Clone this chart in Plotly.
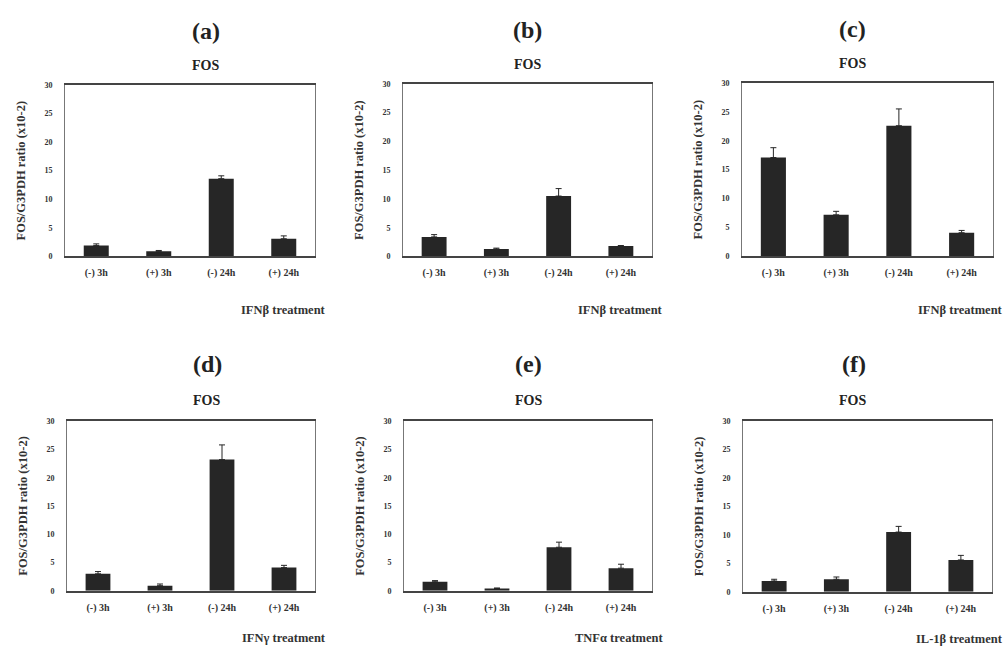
import plotly.graph_objects as go

categories = ["(-) 3h", "(+) 3h", "(-) 24h", "(+) 24h"]
panel_letters = ["(a)", "(b)", "(c)", "(d)", "(e)", "(f)"]
gene = "FOS"
treatments = ["IFNβ treatment", "IFNβ treatment", "IFNβ treatment",
              "IFNγ treatment", "TNFα treatment", "IL-1β treatment"]
y_title = "FOS/G3PDH ratio (x10-2)"
y_ticks = [0, 5, 10, 15, 20, 25, 30]

values_a = [1.9, 0.9, 13.6, 3.1]
errors_a = [0.3, 0.15, 0.5, 0.5]
values_b = [3.4, 1.3, 10.5, 1.8]
errors_b = [0.4, 0.15, 1.3, 0.1]
values_c = [17.1, 7.2, 22.6, 4.1]
errors_c = [1.7, 0.6, 2.9, 0.4]
values_d = [3.0, 0.9, 23.2, 4.1]
errors_d = [0.4, 0.3, 2.6, 0.4]
values_e = [1.6, 0.4, 7.7, 4.0]
errors_e = [0.2, 0.1, 0.9, 0.7]
values_f = [1.9, 2.2, 10.5, 5.6]
errors_f = [0.3, 0.4, 1.0, 0.8]

all_values = [values_a, values_b, values_c, values_d, values_e, values_f]
all_errors = [errors_a, errors_b, errors_c, errors_d, errors_e, errors_f]

W, H = 1006, 653
# plot-area pixel boxes (left, right, top, bottom)
boxes = [
    (65, 315, 82, 256),
    (403, 652, 81, 256),
    (742, 993, 80, 256),
    (67, 315, 423, 595),
    (404, 652, 423, 595),
    (743, 992, 423, 596),
]
title_offsets = [(55, 20), (55, 20), (55, 20), (58, 21), (58, 21), (58, 21)]
treat_offsets = [54, 54, 54, 48, 48, 48]

FONT = "Liberation Serif"
DARK = "#262626"

fig = go.Figure()
annotations = []
layout = dict(
    width=W, height=H, margin=dict(l=0, r=0, t=0, b=0),
    paper_bgcolor="white", plot_bgcolor="white", showlegend=False,
    bargap=0.6, font=dict(family=FONT, color="#222"),
)

for i in range(6):
    l, r, t, b = boxes[i]
    n = "" if i == 0 else str(i + 1)
    xa, ya = "x" + n, "y" + n
    fig.add_trace(go.Bar(
        x=categories, y=all_values[i], xaxis=xa, yaxis=ya,
        marker=dict(color=DARK, line=dict(width=0)),
        error_y=dict(type="data", symmetric=False, array=all_errors[i],
                     arrayminus=[0] * 4, color=DARK, thickness=1, width=3),
    ))
    dx = [l / W, r / W]
    dy = [1 - b / H, 1 - t / H]
    layout["xaxis" + n] = dict(
        domain=dx, anchor=ya, type="category", showline=True, linecolor="#444",
        linewidth=1.5, mirror=True, ticks="", showgrid=False,
        tickvals=categories, ticktext=["<b>" + c + "</b>" for c in categories],
        ticklabelstandoff=6,
        tickfont=dict(family=FONT, size=10, color="#333"),
    )
    layout["yaxis" + n] = dict(
        domain=dy, anchor=xa, range=[0, 30], tickvals=y_ticks,
        ticktext=["<b>%d</b>" % v for v in y_ticks],
        showline=True, linecolor="#777", linewidth=1, mirror=True,
        ticks="", showgrid=False, zeroline=False, ticklabelstandoff=10,
        tickfont=dict(family=FONT, size=8, color="#333"),
        title=dict(text="<b>" + y_title + "</b>", standoff=16,
                   font=dict(family=FONT, size=12.5, color="#333")),
    )
    cx = (l + r) / 2 / W
    annotations.append(dict(
        text="<b>" + panel_letters[i] + "</b>", x=cx,
        y=1 - (t - title_offsets[i][0]) / H, xref="paper", yref="paper",
        showarrow=False, yanchor="middle",
        font=dict(family=FONT, size=24, color="#222")))
    annotations.append(dict(
        text="<b>" + gene + "</b>", x=cx, y=1 - (t - title_offsets[i][1]) / H,
        xref="paper", yref="paper", showarrow=False, yanchor="middle",
        font=dict(family=FONT, size=14, color="#222")))
    annotations.append(dict(
        text="<b>" + treatments[i] + "</b>", x=min((r + 13) / W, 0.999),
        y=1 - (b + treat_offsets[i]) / H, xref="paper", yref="paper",
        showarrow=False, xanchor="right", yanchor="middle",
        font=dict(family=FONT, size=12.5, color="#333")))

layout["annotations"] = annotations
fig.update_layout(**layout)
fig.write_html("out.html", config={"displayModeBar": False},
               post_script="document.body.style.margin='0';")
